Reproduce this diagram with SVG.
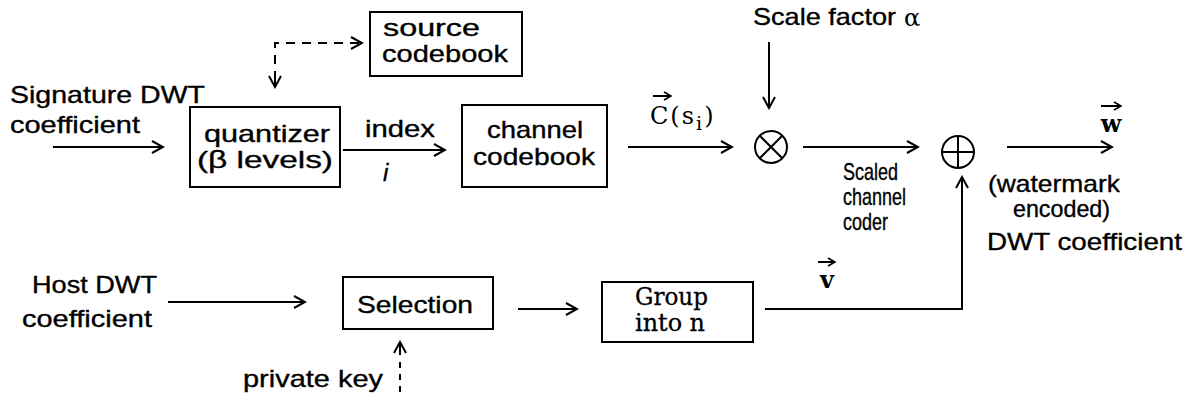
<svg xmlns="http://www.w3.org/2000/svg" width="1185" height="401" viewBox="0 0 1185 401">
<defs>
<style>
.t{font-family:"Liberation Sans",Arial,sans-serif;font-size:24px;fill:#000;stroke:#000;stroke-width:0.35}
.s{font-family:"DejaVu Serif","Liberation Serif",serif;font-size:24px;fill:#000}
.box{fill:none;stroke:#000;stroke-width:2}
.ln{fill:none;stroke:#000;stroke-width:2}
.dash{stroke-dasharray:9 7}
</style>
<marker id="a" markerWidth="14" markerHeight="14" refX="12" refY="7" orient="auto" markerUnits="userSpaceOnUse">
<path d="M1,1 L12,7 L1,13" fill="none" stroke="#000" stroke-width="2"/>
</marker>
<marker id="sa" markerWidth="10" markerHeight="10" refX="8" refY="5" orient="auto" markerUnits="userSpaceOnUse">
<path d="M1,1 L8,5 L1,9" fill="none" stroke="#000" stroke-width="1.6"/>
</marker>
</defs>
<rect width="1185" height="401" fill="#fff"/>

<g id="source-codebook">
<rect class="box" x="370" y="12" width="152" height="64"/>
<text class="t" x="383" y="36" textLength="97" lengthAdjust="spacingAndGlyphs">source</text>
<text class="t" x="382" y="62" textLength="126" lengthAdjust="spacingAndGlyphs">codebook</text>
</g>
<g id="quantizer">
<rect class="box" x="190" y="107" width="150" height="80"/>
<text class="t" x="204" y="142" textLength="126" lengthAdjust="spacingAndGlyphs">quantizer</text>
<text class="t" x="197" y="168" textLength="136" lengthAdjust="spacingAndGlyphs">(β levels)</text>
</g>
<g id="channel-codebook">
<rect class="box" x="462" y="105" width="145" height="82"/>
<text class="t" x="487" y="138" textLength="96" lengthAdjust="spacingAndGlyphs">channel</text>
<text class="t" x="473" y="165" textLength="122" lengthAdjust="spacingAndGlyphs">codebook</text>
</g>
<g id="selection">
<rect class="box" x="343" y="277" width="150" height="52"/>
<text class="t" x="357" y="313" textLength="116" lengthAdjust="spacingAndGlyphs">Selection</text>
</g>
<g id="group">
<rect class="box" x="602" y="282" width="151" height="60"/>
<text class="s" x="635" y="305" font-size="21" stroke="#000" stroke-width="0.3" textLength="73" lengthAdjust="spacingAndGlyphs">Group</text>
<text class="s" x="635" y="331" font-size="21" stroke="#000" stroke-width="0.3" textLength="70" lengthAdjust="spacingAndGlyphs">into n</text>
</g>
<g id="multiply">
<circle class="ln" cx="771" cy="147" r="16"/>
<path class="ln" d="M760,136 L782,158 M782,136 L760,158"/>
</g>
<g id="add">
<circle class="ln" cx="958" cy="152" r="16"/>
<path class="ln" d="M942,152 L974,152 M958,136 L958,168"/>
</g>

<g id="connectors">
<path class="ln dash" d="M275,80 L275,43 L362,43" marker-end="url(#a)"/>
<path class="ln" d="M275,75 L275,87" marker-end="url(#a)"/>
<path class="ln" d="M53,147 L163,147" marker-end="url(#a)"/>
<path class="ln" d="M343,150 L445,150" marker-end="url(#a)"/>
<path class="ln" d="M628,147 L732,147" marker-end="url(#a)"/>
<path class="ln" d="M769,42 L769,108" marker-end="url(#a)"/>
<path class="ln" d="M803,147 L918,147" marker-end="url(#a)"/>
<path class="ln" d="M1007,147 L1112,147" marker-end="url(#a)"/>
<path class="ln" d="M168,302 L305,302" marker-end="url(#a)"/>
<path class="ln" d="M518,309 L577,309" marker-end="url(#a)"/>
<path class="ln" d="M765,309 L962,309 L962,177" marker-end="url(#a)"/>
<path class="ln" d="M400,392 L400,360" style="stroke-dasharray:6 6"/>
<path class="ln" d="M400,355 L400,342" marker-end="url(#a)"/>
</g>

<g id="labels">
<text class="t" x="10" y="103" textLength="195" lengthAdjust="spacingAndGlyphs">Signature DWT</text>
<text class="t" x="10" y="133" textLength="130" lengthAdjust="spacingAndGlyphs">coefficient</text>
<text class="t" x="365" y="137" textLength="70" lengthAdjust="spacingAndGlyphs">index</text>
<text class="t" x="383" y="181" font-style="italic">i</text>
<text class="s" x="650" y="124" font-size="27" letter-spacing="2">C(s<tspan font-size="19" dy="6">i</tspan><tspan dy="-6">)</tspan></text>
<path class="ln" d="M653,96 L671,96" stroke-width="1.8" marker-end="url(#sa)"/>
<text class="t" x="753" y="25" textLength="143" lengthAdjust="spacingAndGlyphs">Scale factor</text>
<text class="s" x="904" y="26" font-size="27">α</text>
<text class="t" x="843" y="180" textLength="55" lengthAdjust="spacingAndGlyphs">Scaled</text>
<text class="t" x="843" y="205" textLength="63" lengthAdjust="spacingAndGlyphs">channel</text>
<text class="t" x="843" y="230" textLength="45" lengthAdjust="spacingAndGlyphs">coder</text>
<text class="s" x="1111" y="132" font-size="27" font-weight="bold" text-anchor="middle">w</text>
<path class="ln" d="M1101,106 L1121,106" stroke-width="1.8" marker-end="url(#sa)"/>
<text class="t" x="988" y="192" textLength="132" lengthAdjust="spacingAndGlyphs">(watermark</text>
<text class="t" x="1013" y="217" textLength="97" lengthAdjust="spacingAndGlyphs">encoded)</text>
<text class="t" x="987" y="250" textLength="195" lengthAdjust="spacingAndGlyphs">DWT coefficient</text>
<text class="t" x="32" y="293" textLength="125" lengthAdjust="spacingAndGlyphs">Host DWT</text>
<text class="t" x="22" y="327" textLength="130" lengthAdjust="spacingAndGlyphs">coefficient</text>
<text class="s" x="827" y="288" font-size="27" font-weight="bold" text-anchor="middle">v</text>
<path class="ln" d="M818,262 L835,262" stroke-width="1.8" marker-end="url(#sa)"/>
<text class="t" x="243" y="387" textLength="140" lengthAdjust="spacingAndGlyphs">private key</text>
</g>
</svg>
